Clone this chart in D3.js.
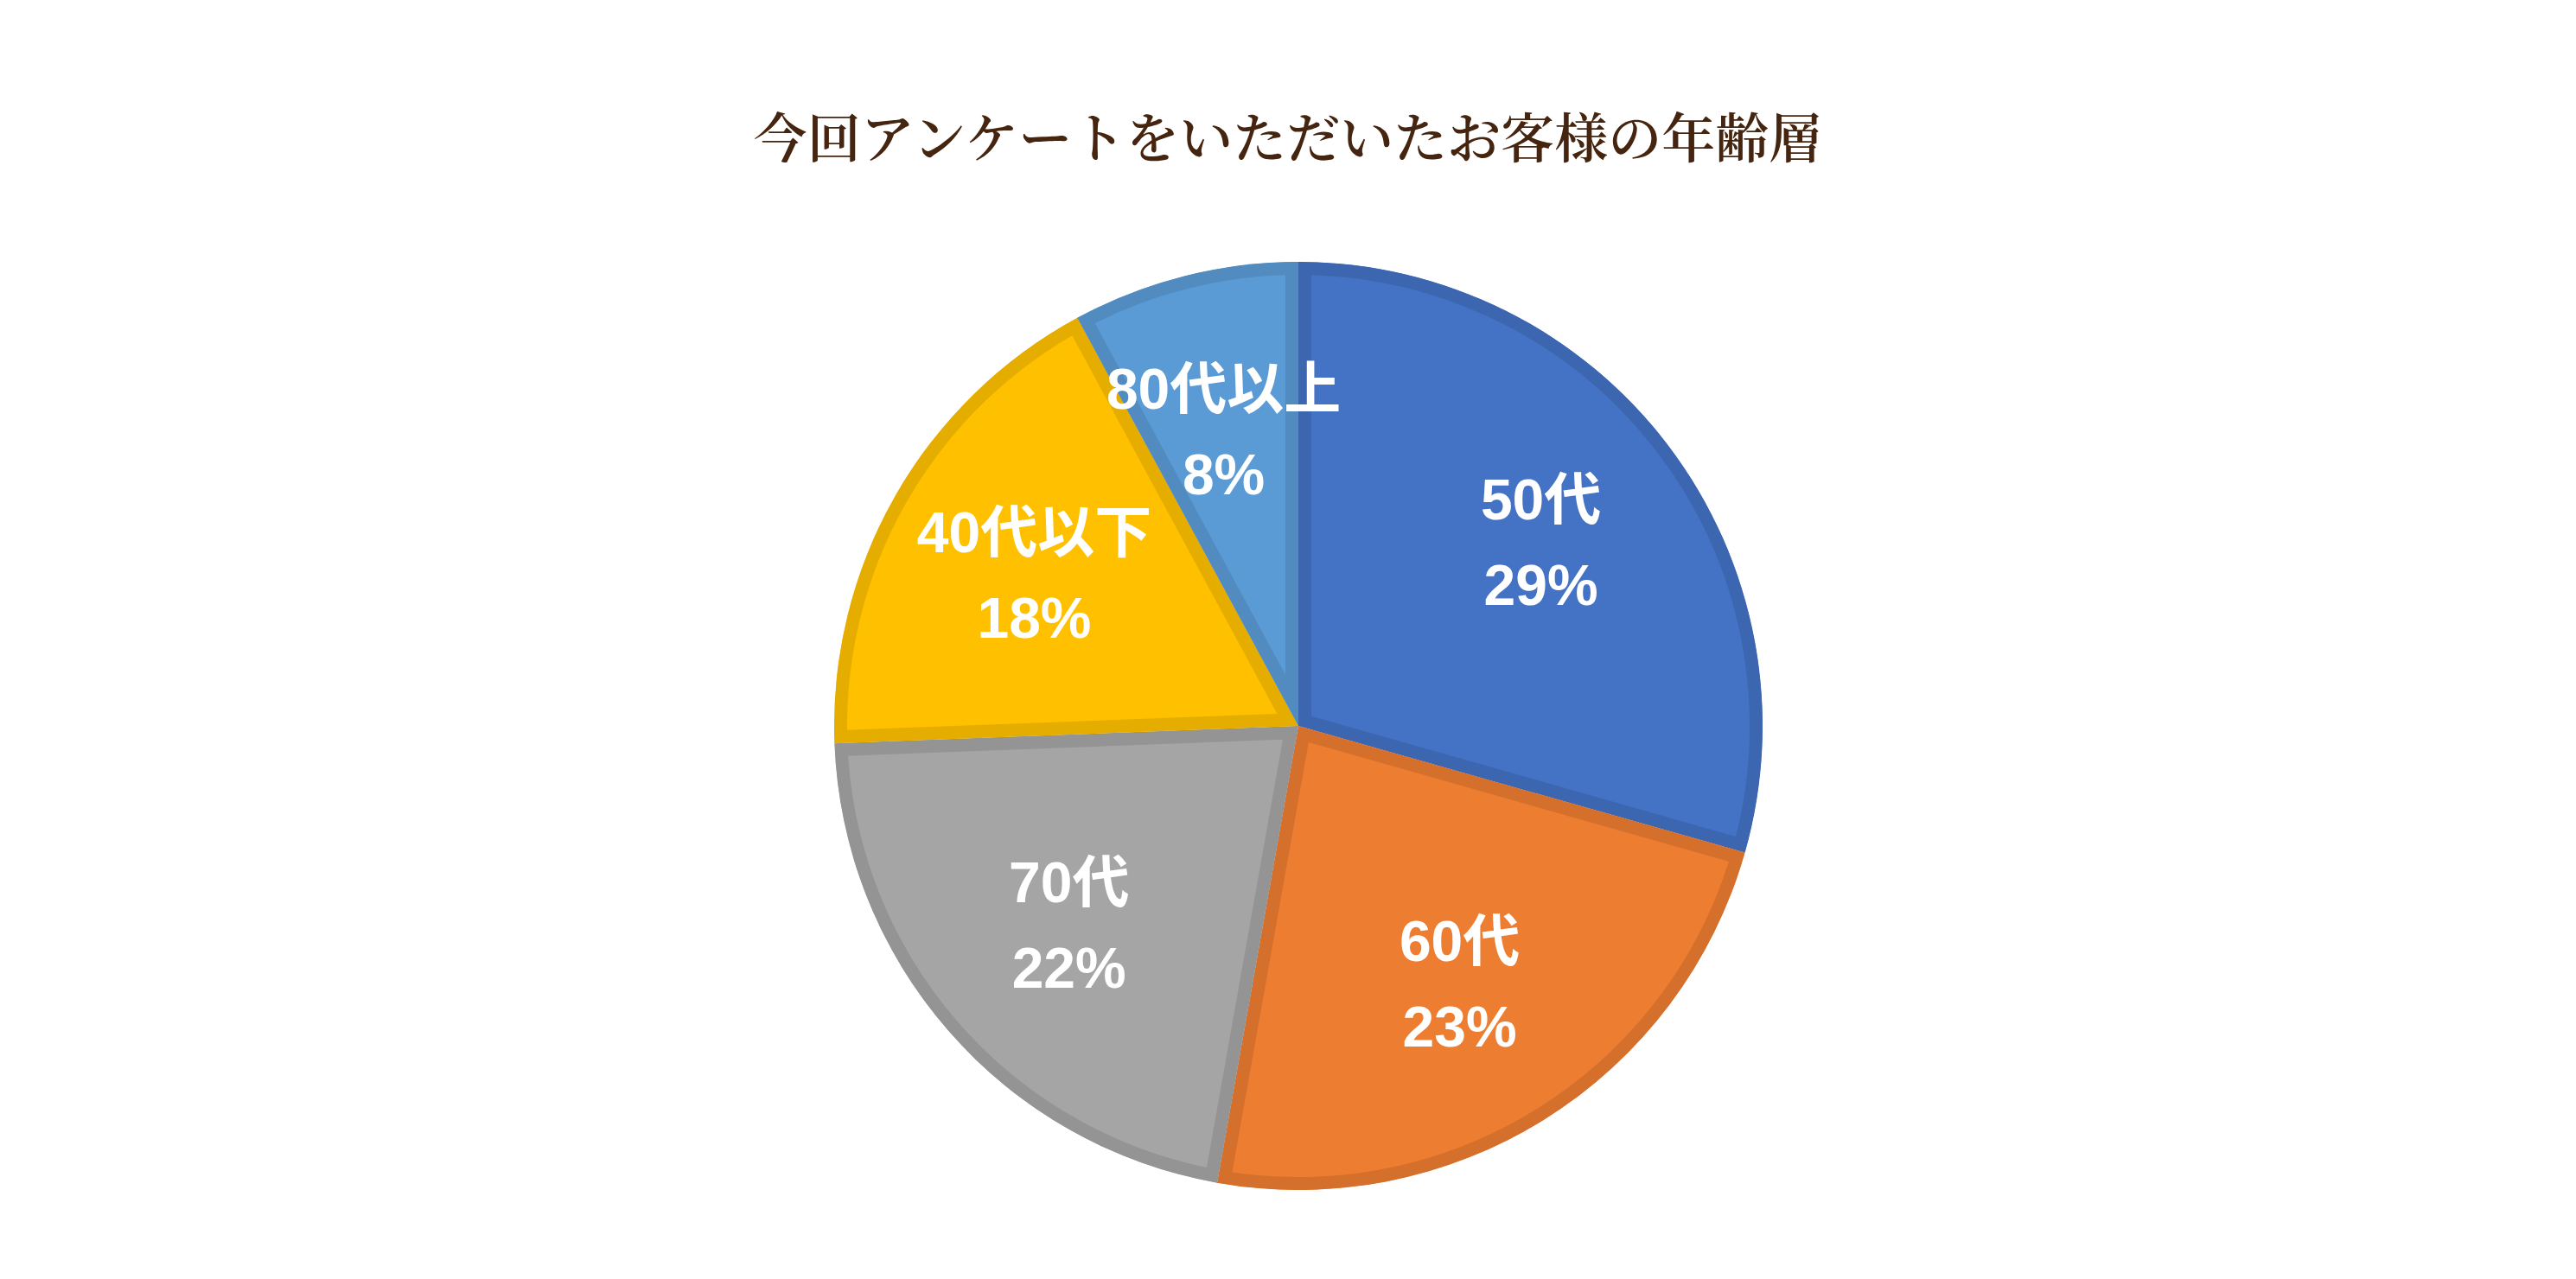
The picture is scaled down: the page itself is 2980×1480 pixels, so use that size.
<!DOCTYPE html>
<html>
<head>
<meta charset="utf-8">
<script src="https://cdn.jsdelivr.net/npm/d3@7"></script>
<style>
  html, body { margin: 0; padding: 0; background: #ffffff; }
  svg { display: block; }
</style>
</head>
<body>
<div id="chart"></div>
<script>
// ---- data ----
const title = "今回アンケートをいただいたお客様の年齢層";
const categories = ["50代", "60代", "70代", "40代以下", "80代以上"];
const values = [29.4, 23.4, 21.6, 17.7, 7.9];
const colors = ["#4472C4", "#ED7D31", "#A5A5A5", "#FFC000", "#5B9BD5"];

// ---- layout ----
const W = 2980, H = 1480;
const cx = 1502, cy = 840, R = 537;
const borderW = 15;
const labelR = R * 0.655;
const lineGap = 99;

const svg = d3.select("#chart").append("svg")
  .attr("width", W).attr("height", H)
  .attr("viewBox", `0 0 ${W} ${H}`);

svg.append("rect").attr("width", W).attr("height", H).attr("fill", "#ffffff");

svg.append("text")
  .attr("x", W / 2).attr("y", 156)
  .attr("text-anchor", "middle")
  .attr("dominant-baseline", "central")
  .attr("font-family", "'Noto Serif CJK JP', 'Noto Sans CJK JP', serif")
  .attr("font-weight", 600)
  .attr("font-size", 62)
  .attr("fill", "#45250f")
  .text(title);

const data = categories.map((c, i) => ({ cat: c, value: values[i], color: colors[i] }));
const pie = d3.pie().sort(null).value(d => d.value);
const arcs = pie(data);
const arc = d3.arc().innerRadius(0).outerRadius(R);
const labelArc = d3.arc().innerRadius(labelR).outerRadius(labelR);

const g = svg.append("g").attr("transform", `translate(${cx},${cy})`);
const defs = svg.append("defs");

defs.selectAll("clipPath").data(arcs).join("clipPath")
  .attr("id", (d, i) => "clip" + i)
  .append("path").attr("d", arc);

g.selectAll("path.slice").data(arcs).join("path")
  .attr("class", "slice")
  .attr("d", arc)
  .attr("fill", d => d.data.color)
  .attr("stroke", d => d3.color(d.data.color).darker(0.3).formatHex())
  .attr("stroke-width", borderW * 2)
  .attr("stroke-linejoin", "miter")
  .attr("clip-path", (d, i) => `url(#clip${i})`);

const fmt = d3.format(".0f");
const labels = g.selectAll("text.lbl").data(arcs).join("text")
  .attr("class", "lbl")
  .attr("text-anchor", "middle")
  .attr("font-family", "'Liberation Sans', 'Noto Sans CJK JP', sans-serif")
  .attr("font-weight", "bold")
  .attr("font-size", 66)
  .attr("fill", "#ffffff");

labels.each(function(d) {
  const [x, y] = labelArc.centroid(d);
  const t = d3.select(this);
  t.append("tspan").attr("x", x).attr("y", y - lineGap / 2)
    .attr("dominant-baseline", "central").text(d.data.cat);
  t.append("tspan").attr("x", x).attr("y", y + lineGap / 2)
    .attr("dominant-baseline", "central").text(fmt(d.data.value) + "%");
});
</script>
</body>
</html>
